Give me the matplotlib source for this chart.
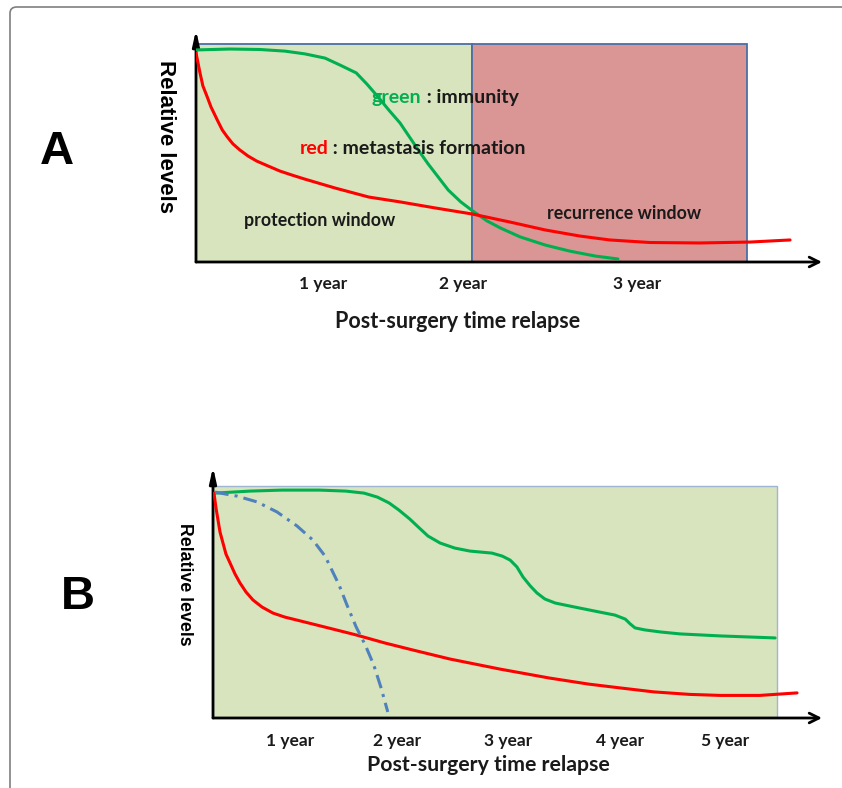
import matplotlib
matplotlib.use('Agg')
import matplotlib.pyplot as plt
from matplotlib.patches import Rectangle, FancyBboxPatch

plt.rcParams['font.family'] = ['Lato', 'DejaVu Sans']

# ---- panel A data (time 0..100 along the axis, level 0..100) ----
green_a_x = [0, 5.4, 10.2, 14.2, 17.4, 20.6, 23.0, 25.6, 27.3, 29.1, 30.8, 32.6, 34.0, 35.5,
             37.1, 38.7, 40.3, 42.3, 44.4, 46.5, 48.6, 51.8, 55.8, 59.7, 63.7, 67.4]
green_a_y = [91.4, 91.8, 91.6, 90.9, 89.7, 87.9, 84.9, 81.5, 76.7, 71.1, 65.5, 59.9, 54.3, 48.3,
             42.2, 36.6, 31.0, 25.9, 21.6, 17.7, 14.7, 10.8, 7.3, 4.7, 2.6, 1.3]
red_a_x = [0, 0.64, 1.1, 1.8, 2.4, 3.4, 4.2, 5.0, 5.9, 7.0, 8.3, 9.7, 11.5, 13.4, 15.3, 17.3,
           22.2, 27.6, 32.6, 38.2, 44.1, 50.2, 55.8, 61.3, 66.1, 72.5, 80.5, 88.5, 94.9]
red_a_y = [90.1, 81.5, 75.9, 71.1, 66.8, 61.2, 56.9, 53.9, 50.9, 48.3, 45.7, 43.5, 41.4, 39.2,
           37.5, 35.8, 31.9, 28.0, 25.9, 23.3, 20.7, 17.2, 13.8, 11.2, 9.5, 8.4, 8.2, 8.6, 9.5]
windows_a = [0, 44.1, 88.0]     # protection / recurrence window edges
box_top_a = 94.0
ticks_a = [20.3, 42.7, 70.4]
labels_a = ['1 year', '2 year', '3 year']

# ---- panel B data ----
green_b_x = [0.3, 6.1, 11.3, 17.5, 21.8, 24.8, 27.0, 28.9, 30.5, 32.3, 33.7, 35.3, 37.3, 39.7,
             42.2, 45.8, 47.5, 48.8, 49.9, 50.9, 52.1, 53.2, 54.5, 56.2, 59.4, 63.5, 66.0,
             67.7, 68.5, 69.3, 70.9, 73.4, 76.7, 83.3, 92.3]
green_b_y = [89.6, 90.4, 90.8, 90.8, 90.4, 89.6, 88.0, 85.7, 82.9, 79.3, 76.1, 72.5, 69.7, 67.7,
             66.5, 65.7, 64.5, 62.9, 60.2, 56.2, 52.6, 49.8, 47.4, 45.8, 44.2, 42.2, 41.0,
             39.4, 37.5, 35.9, 35.1, 34.3, 33.5, 32.7, 31.9]
red_b_x = [0.16, 0.49, 0.82, 1.15, 1.64, 2.13, 2.79, 3.61, 4.43, 5.42, 6.57, 8.05, 9.85, 11.8,
           13.8, 17.6, 23.5, 28.2, 32.8, 38.9, 47.1, 55.3, 61.7, 66.8, 72.4, 78.3, 83.3, 89.8, 95.9]
red_b_y = [89.6, 83.7, 78.9, 74.1, 69.7, 65.3, 61.8, 57.4, 53.8, 50.2, 47.0, 44.2, 41.8, 40.2,
           39.0, 36.7, 33.1, 29.9, 27.1, 23.5, 19.5, 15.9, 13.5, 12.0, 10.4, 9.4, 9.0, 9.0, 10.0]
blue_b_x = [0.33, 3.94, 7.22, 10.5, 13.8, 16.4, 18.4, 19.5, 20.7, 22.0, 23.5, 25.0, 26.4, 27.6, 28.7]
blue_b_y = [90.0, 88.4, 86.1, 82.1, 76.5, 70.9, 64.5, 59.0, 53.0, 45.0, 36.3, 29.1, 21.1, 12.0, 2.4]
box_right_b = 92.6
box_top_b = 92.4
ticks_b = [12.6, 30.2, 48.4, 66.8, 84.1]
labels_b = ['1 year', '2 year', '3 year', '4 year', '5 year']

GREEN = '#00b050'
RED = '#ff0000'
BLUE = '#4f81bd'
DARK = '#1a1a1a'
W, H = 842, 788
ARIAL = ['Liberation Sans', 'DejaVu Sans']

fig = plt.figure(figsize=(W / 100, H / 100), dpi=100)

# rounded frame around the figure
fig.patches.append(FancyBboxPatch((10 / W, -0.1), 1.2, 1.1 - 7 / H,
                                  boxstyle='round,pad=0,rounding_size=0.008',
                                  transform=fig.transFigure, fill=False,
                                  edgecolor='#7f7f7f', lw=1.2))


def make_axes(x0, y0, x1, y1):
    # pixel box -> figure fraction
    ax = fig.add_axes([x0 / W, 1 - y0 / H, (x1 - x0) / W, (y0 - y1) / H])
    ax.set_xlim(0, 100)
    ax.set_ylim(0, 100)
    for s in ax.spines.values():
        s.set_visible(False)
    ax.set_yticks([])
    ax.tick_params(axis='x', length=0, pad=12)
    ax.annotate('', xy=(1, 0), xytext=(0, 0), xycoords='axes fraction',
                arrowprops=dict(arrowstyle='->,head_length=0.7,head_width=0.35',
                                lw=2, color='black', shrinkA=0, shrinkB=0))
    ax.annotate('', xy=(0, 1), xytext=(0, 0), xycoords='axes fraction',
                arrowprops=dict(arrowstyle='-|>,head_length=0.9,head_width=0.2',
                                lw=2, color='black', shrinkA=0, shrinkB=0))
    return ax


def two_color(ax, x, y, word, color, rest, size):
    t = ax.text(x, y, word, color=color, fontsize=size, fontweight='bold', va='center', zorder=4)
    ax.annotate(rest, xy=(1, 0.5), xycoords=t, va='center', ha='left', color=DARK,
                fontsize=size, fontweight='bold', zorder=4)


line_kw = dict(lw=2.2, solid_joinstyle='round', solid_capstyle='round', zorder=3)

# ---------------- panel A ----------------
axA = make_axes(196, 262, 822, 30)
axA.add_patch(Rectangle((windows_a[0], 0), windows_a[1] - windows_a[0], box_top_a,
                        facecolor='#d7e4bd', edgecolor='#4a6fa5', lw=1.3, zorder=1))
axA.add_patch(Rectangle((windows_a[1], 0), windows_a[2] - windows_a[1], box_top_a,
                        facecolor='#d99694', edgecolor='#4a6fa5', lw=1.3, zorder=1))
axA.plot(green_a_x, green_a_y, color=GREEN, **line_kw)
axA.plot(red_a_x, red_a_y, color=RED, **line_kw)
axA.set_xticks(ticks_a)
axA.set_xticklabels(labels_a, fontsize=12.5, fontweight='bold', color=DARK)
axA.tick_params(axis='x', pad=10)
two_color(axA, 28.1, 71.1, 'green', GREEN, ' : immunity', 14)
two_color(axA, 16.5, 49.1, 'red', RED, ' : metastasis formation', 14)
axA.text(19.8, 17.7, 'protection window', fontsize=12.8, fontweight='bold', ha='center',
         va='center', color=DARK, zorder=4)
axA.text(68.4, 21.1, 'recurrence window', fontsize=12.8, fontweight='bold', ha='center',
         va='center', color=DARK, zorder=4)
fig.text(458 / W, 1 - 322 / H, 'Post-surgery time relapse', fontsize=15.5, fontweight='bold',
         ha='center', va='center', color=DARK)
fig.text(166 / W, 1 - 137 / H, 'Relative levels', rotation=-90, fontsize=16, fontweight='bold',
         ha='center', va='center', family=ARIAL)
fig.text(57 / W, 1 - 152 / H, 'A', fontsize=34, fontweight='bold', ha='center', va='center',
         family=ARIAL)

# ---------------- panel B ----------------
axB = make_axes(213, 718, 822, 467)
axB.add_patch(Rectangle((0, 0), box_right_b, box_top_b, facecolor='#d7e4bd',
                        edgecolor='#9fb6d3', lw=1.0, zorder=1))
axB.plot(green_b_x, green_b_y, color=GREEN, **line_kw)
axB.plot(red_b_x, red_b_y, color=RED, **line_kw)
axB.plot(blue_b_x, blue_b_y, color=BLUE, lw=2.2, ls=(0, (4.5, 2, 1, 2)), zorder=3)
axB.set_xticks(ticks_b)
axB.set_xticklabels(labels_b, fontsize=12.5, fontweight='bold', color=DARK)
axB.tick_params(axis='x', pad=11)
fig.text(488 / W, 1 - 765 / H, 'Post-surgery time relapse', fontsize=15.3, fontweight='bold',
         ha='center', va='center', color=DARK)
fig.text(185 / W, 1 - 584 / H, 'Relative levels', rotation=-90, fontsize=12.8, fontweight='bold',
         ha='center', va='center', family=ARIAL)
fig.text(78 / W, 1 - 597 / H, 'B', fontsize=34, fontweight='bold', ha='center', va='center',
         family=ARIAL)

fig.savefig('out.png', dpi=100)
